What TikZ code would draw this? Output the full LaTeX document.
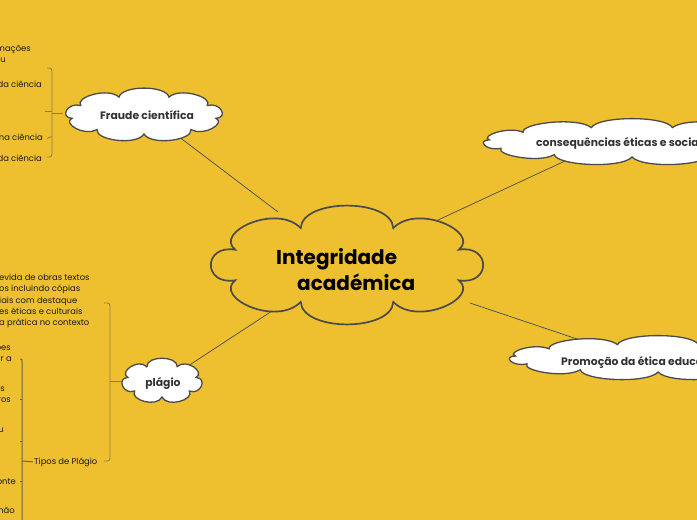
\documentclass[tikz,border=0pt]{standalone}
\usepackage{fontspec}
\setmainfont{Poppins}
\definecolor{bg}{HTML}{EEC030}
\definecolor{edge}{HTML}{4A4A4A}
\definecolor{brk}{HTML}{8F7D3E}
\definecolor{brk2}{HTML}{6A6248}
\definecolor{labtxt}{HTML}{333333}
% #1 style, #2 cx, #3 cy, #4 rx, #5 ry, #6 puffs, #7 puff height, #8 start angle
\newcommand\mycloud[8]{%
  \pgfmathsetmacro\cldd{360/#6}%
  \pgfmathsetmacro\clde{\cldd*0.12}%
  \path[#1] ({#2+#4*cos(#8)},{#3+#5*sin(#8)})
   \foreach \i in {1,...,#6}{
     .. controls ({#2+(#4+#7)*cos(#8+(\i-1)*\cldd+\clde)},{#3+(#5+#7)*sin(#8+(\i-1)*\cldd+\clde)})
     and ({#2+(#4+#7)*cos(#8+\i*\cldd-\clde)},{#3+(#5+#7)*sin(#8+\i*\cldd-\clde)})
     .. ({#2+#4*cos(#8+\i*\cldd)},{#3+#5*sin(#8+\i*\cldd)})
   } -- cycle;
}
\begin{document}
\begin{tikzpicture}[x=1pt,y=-1pt,
  cloudline/.style={draw=edge, line width=1.3pt, fill=white, line join=miter},
  lab/.style={font=\bfseries\fontsize{10.8}{12}\selectfont, text=labtxt, inner sep=0pt},
  small/.style={font=\fontsize{8.4}{11.3}\selectfont, inner sep=0pt, align=left, text=black!90},
  conn/.style={draw=edge, line width=0.7pt},
  bracket/.style={draw=brk, line width=0.8pt},
  bracketb/.style={draw=brk2, line width=1pt}]
\useasboundingbox (0,0) rectangle (697,520);
\fill[bg] (0,0) rectangle (697,520);

% connectors (drawn first, clouds cover their ends)
\coordinate (cF) at (278,212);
\coordinate (cC) at (438,220);
\coordinate (cP) at (470,303);
\coordinate (cL) at (272,311);
\coordinate (fE) at (170,130);
\coordinate (cE) at (580,154);
\coordinate (pE) at (580,340);
\coordinate (lE) at (188,366);
\draw[conn] (cF) -- (fE);
\draw[conn] (cC) -- (cE);
\draw[conn] (cP) -- (pE);
\draw[conn] (cL) -- (lE);

% clouds
\mycloud{cloudline, fill=none, line width=1.7pt}{347}{265}{121}{40}{8}{30}{-112.5}
\node[font=\bfseries\fontsize{20}{26}\selectfont, inner sep=0pt, anchor=base west] (ctxt1) at (276,264) {Integridade};
\node[font=\bfseries\fontsize{20}{26}\selectfont, inner sep=0pt, anchor=base west] (ctxt2) at (297,290) {académica};

\mycloud{cloudline}{144}{115}{73}{19}{9}{12}{-110}
\node[lab] (fraudetxt) at (147,115) {Fraude científica};

\mycloud{cloudline}{632}{142}{144}{15}{11}{12}{-106.4}
\node[lab, anchor=base west] (conseqtxt) at (536,146) {consequências éticas e sociais};

\mycloud{cloudline}{658}{358}{144}{14}{11}{12}{-106.4}
\node[lab, anchor=base west] (promotxt) at (561,365) {Promoção da ética educacional};

\mycloud{cloudline}{162}{381}{35}{16}{7}{11}{-115.7}
\node[lab] (plagiotxt) at (163,383) {plágio};

% Fraude bracket
\coordinate (fW) at (63,113);
\coordinate (fb) at (52,113);
\draw[bracket] (fW) -- (fb);
\draw[bracket] (47,68) -- (49.5,68) to[out=0,in=90] (52,71) -- (52,154) to[out=-90,in=0] (49.5,157) -- (47,157);
\draw[bracket] (52,111) -- (45,111);
\draw[bracket] (52,137) -- (50,137) to[out=180,in=0] (47,138.5);

\node[small, anchor=base east] (f1a) at (31,51) {mações};
\node[small, anchor=base east] (f1b) at (6,62) {u};
\node[small, anchor=base east] (f2) at (42,87) {da ciência};
\node[small, anchor=base east] (f3) at (43,140) {na ciência};
\node[small, anchor=base east] (f4) at (42,161) {da ciência};

% Plagio bracket
\coordinate (lW) at (122,381);
\coordinate (pb) at (110,381);
\draw[bracket] (lW) -- (pb);
\draw[bracket] (104,303) -- (107.5,303) to[out=0,in=90] (110,306) -- (110,458) to[out=-90,in=0] (107.5,461) -- (104,461);

\node[small, anchor=north west] (pblock) at (-1,274) {evida de obras textos\\os incluindo cópias\\iais com destaque\\es éticas e culturais\\a prática no contexto};

\node[small, anchor=base west] (tipos) at (34,464) {Tipos de Plágio};

% Tipos bracket
\coordinate (tb) at (22,461);
\draw[bracketb] (tipos.west) ++(-1,0) -- (tb);
\draw[bracketb] (20,359) -- (21,359) to[out=0,in=90] (22,361) -- (22,525);
\draw[bracketb] (22,399) -- (20,399);
\draw[bracketb] (22,441) -- (20,441);
\draw[bracketb] (22,481) -- (20,481);

\node[small, anchor=base east] (t1a) at (11,350) {ões};
\node[small, anchor=base east] (t1b) at (12,361) {r a};
\node[small, anchor=base east] (t2a) at (5,391) {as};
\node[small, anchor=base east] (t2b) at (11,402) {ros};
\node[small, anchor=base east] (t3) at (4,432) {u};
\node[small, anchor=base east] (t4) at (16,484) {onte};
\node[small, anchor=base east] (t5) at (15,513) {não};
\end{tikzpicture}
\end{document}
